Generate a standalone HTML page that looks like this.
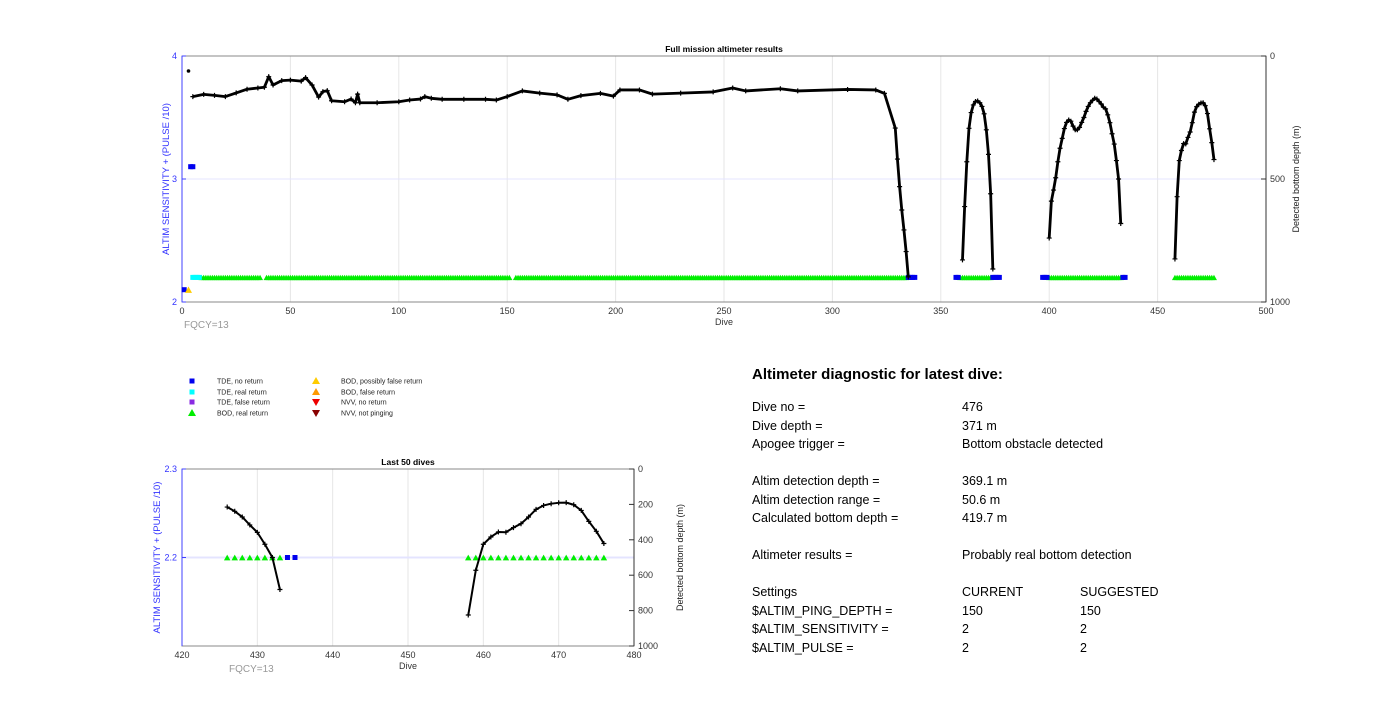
<!DOCTYPE html>
<html><head><meta charset="utf-8">
<style>
html,body{margin:0;padding:0;background:#fff;width:1400px;height:726px;overflow:hidden;font-family:"Liberation Sans",Arial,sans-serif}
#diag{position:absolute;left:752px;top:366px;font-size:12.5px;color:#000}
#diag .t{font-weight:bold;font-size:15px;margin-bottom:17px}
#diag .r{height:18.5px;position:relative;white-space:nowrap}
#diag .gap{height:18.5px}
#diag span{position:absolute;top:0}
</style></head>
<body>
<svg id="svg" width="1400" height="726" style="position:absolute;left:0;top:0" font-family="Liberation Sans, Arial, sans-serif"></svg>
<div id="diag">
<div class="t">Altimeter diagnostic for latest dive:</div>
<div class="r"><span style="left:0">Dive no =</span><span style="left:210px">476</span></div>
<div class="r"><span style="left:0">Dive depth =</span><span style="left:210px">371 m</span></div>
<div class="r"><span style="left:0">Apogee trigger =</span><span style="left:210px">Bottom obstacle detected</span></div>
<div class="gap"></div>
<div class="r"><span style="left:0">Altim detection depth =</span><span style="left:210px">369.1 m</span></div>
<div class="r"><span style="left:0">Altim detection range =</span><span style="left:210px">50.6 m</span></div>
<div class="r"><span style="left:0">Calculated bottom depth =</span><span style="left:210px">419.7 m</span></div>
<div class="gap"></div>
<div class="r"><span style="left:0">Altimeter results =</span><span style="left:210px">Probably real bottom detection</span></div>
<div class="gap"></div>
<div class="r"><span style="left:0">Settings</span><span style="left:210px">CURRENT</span><span style="left:328px">SUGGESTED</span></div>
<div class="r"><span style="left:0">$ALTIM_PING_DEPTH =</span><span style="left:210px">150</span><span style="left:328px">150</span></div>
<div class="r"><span style="left:0">$ALTIM_SENSITIVITY =</span><span style="left:210px">2</span><span style="left:328px">2</span></div>
<div class="r"><span style="left:0">$ALTIM_PULSE =</span><span style="left:210px">2</span><span style="left:328px">2</span></div>
</div>
<script>
// ---- data ----
const segADives = [5,10,15,20,25,30,35,38,40,42,46,50,55,57,60,63,65,67,69,75,78,80,81,82,90,100,105,110,112,115,120,130,140,145,150,157,165,173,178,184,193,199,202,211,217,230,245,254,260,276,284,307,320,324,329,330,331,332,333,334,335];
const segADepth = [165,156,160,165,150,135,130,127,84,118,100,98,102,88,118,167,145,141,182,186,175,190,155,190,190,186,179,175,165,172,176,176,176,179,165,142,151,158,176,161,152,163,138,138,155,151,146,130,142,133,142,136,138,152,293,419,531,626,707,795,898];
const segBDives = [360,361,362,363,364,365,366,367,368,369,370,371,372,373,374];
const segBDepth = [829,612,430,294,230,199,185,183,190,205,235,300,400,560,866];
const segCDives = [400,401,402,403,404,405,406,407,408,409,410,411,412,413,414,415,416,417,418,419,420,421,422,423,424,425,426,427,428,429,430,431,432,433];
const segCDepth = [740,590,545,495,430,375,335,295,270,260,265,285,300,300,290,270,250,225,205,190,180,172,175,185,195,208,215,239,271,316,358,425,500,681];
const segDDives = [458,459,460,461,462,463,464,465,466,467,468,469,470,471,472,473,474,475,476];
const segDDepth = [825,572,425,384,356,357,331,309,271,228,206,196,191,190,202,234,296,352,421];
const bodRealStart = [9,39,154,328,359,400,458];
const bodRealEnd = [36,151,327,334,373,433,476];
const tdeNoReturnDives = [1,4,5,335,336,337,338,357,358,374,375,376,377,397,398,399,434,435];
const tdeNoReturnVals = [2.1,3.1,3.1,2.2,2.2,2.2,2.2,2.2,2.2,2.2,2.2,2.2,2.2,2.2,2.2,2.2,2.2,2.2];
const tdeRealDives = [5,6,7,8];
const bodPossFalseDives = [3];
const bodPossFalseVals = [2.1];
const isolatedDepthDive = [3];
const isolatedDepthVal = [61];
const topXTicks = [0,50,100,150,200,250,300,350,400,450,500];
const topYTicks = [2,3,4];
const topRTicks = [0,500,1000];
const botXTicks = [420,430,440,450,460,470,480];
const botYTicks = [2.2,2.3];
const botRTicks = [0,200,400,600,800,1000];

const NS='http://www.w3.org/2000/svg';
const svg=document.getElementById('svg');
function mk(tag,attrs,parent){const e=document.createElementNS(NS,tag);for(const k in attrs)e.setAttribute(k,attrs[k]);(parent||svg).appendChild(e);return e;}
function txt(s,x,y,attrs){const e=mk('text',Object.assign({x:x,y:y},attrs||{}));e.textContent=s;return e;}

function chart(o){
  const X=v=>o.x0+(v-o.xmin)/(o.xmax-o.xmin)*(o.x1-o.x0);
  const YL=v=>o.y1-(v-o.ymin)/(o.ymax-o.ymin)*(o.y1-o.y0);
  const YR=v=>o.y0+(v-0)/1000*(o.y1-o.y0);
  const g=mk('g',{});
  
  
  o.xticks.forEach(t=>{if(t>o.xmin&&t<o.xmax){const l=mk('line',{x1:X(t),x2:X(t),y1:o.y0,y2:o.y1,stroke:'#e6e6e6','stroke-width':1},g);
    
    }});
  o.ygrid.forEach(t=>{const l=mk('line',{x1:o.x0,x2:o.x1,y1:YL(t),y2:YL(t),stroke:'#e4e4ff','stroke-width':o.gw||1},g);
    
    });
  const fr=mk('rect',{x:o.x0,y:o.y0,width:o.x1-o.x0,height:o.y1-o.y0,fill:'none',stroke:'#888','stroke-width':1},g);
  
  
  const la=mk('line',{x1:o.x0,x2:o.x0,y1:o.y0,y2:o.y1,stroke:'#4040ff','stroke-width':1},g);
  
  
  const ra=mk('line',{x1:o.x1,x2:o.x1,y1:o.y0,y2:o.y1,stroke:'#333','stroke-width':1},g);
  
  
  o.xticks.forEach(t=>{const e=txt(String(t),X(t),o.y1+12,{'font-size':9,'text-anchor':'middle',fill:'#333'});
    
    
    g.appendChild(e);});
  o.yticks.forEach(t=>{const e=txt(String(t),o.x0-5,YL(t)+3,{'font-size':9,'text-anchor':'end',fill:'#3333ff'});
    
    
    g.appendChild(e);
    const tk=mk('line',{x1:o.x0,x2:o.x0+4,y1:YL(t),y2:YL(t),stroke:'#4040ff'},g);
    
    });
  o.rticks.forEach(t=>{const e=txt(String(t),o.x1+4,YR(t)+3,{'font-size':9,'text-anchor':'start',fill:'#333'});
    
    
    g.appendChild(e);
    const tk=mk('line',{x1:o.x1-5,x2:o.x1,y1:YR(t),y2:YR(t),stroke:'#333'},g);
    
    });
  const ti=txt(o.title,(o.x0+o.x1)/2,o.y0-4,{'font-size':8.5,'font-weight':'bold','text-anchor':'middle'});
  
  
  g.appendChild(ti);
  const xl=txt('Dive',(o.x0+o.x1)/2,o.y1+23,{'font-size':9,'text-anchor':'middle',fill:'#333'});
  
  
  g.appendChild(xl);
  const fq=txt('FQCY=13',o.fqx,o.y1+26,{'font-size':10,fill:'#999'});
  
  
  g.appendChild(fq);
  const cy=(o.y0+o.y1)/2;
  const yl=txt('ALTIM SENSITIVITY + (PULSE /10)',o.ylx,cy,{'font-size':9.5,fill:'#3333ff','text-anchor':'middle',transform:`rotate(-90 ${o.ylx} ${cy})`});
  
  
  g.appendChild(yl);
  const rl=txt('Detected bottom depth (m)',o.rlx,cy,{'font-size':9,fill:'#222','text-anchor':'middle',transform:`rotate(-90 ${o.rlx} ${cy})`});
  
  
  g.appendChild(rl);
  const inr=d=>d>=o.dmin&&d<=o.xmax;
  const tri=(d,v,col,s,name)=>{if(!inr(d))return;const x=X(d),y=YL(v);const h=s*0.9;
    const pts=`${x-s/2},${y+h/2} ${x+s/2},${y+h/2} ${x},${y-h/2}`;
    const p=mk('polygon',{points:pts,fill:col},g);
    
    };
  const sq=(d,v,col,s,name)=>{if(!inr(d))return;const r=mk('rect',{x:X(d)-s/2,y:YL(v)-s/2,width:s,height:s,fill:col},g);
    
    };
  bodRealStart.forEach((s,i)=>{for(let d=s;d<=bodRealEnd[i];d++)tri(d,2.2,'#00ee00',o.ms,'bod-real-return-marker');});
  tdeRealDives.forEach(d=>sq(d,2.2,'#00ffff',o.ss,'tde-real-return-marker'));
  tdeNoReturnDives.forEach((d,i)=>sq(d,tdeNoReturnVals[i],'#0000ee',o.ss,'tde-no-return-marker'));
  bodPossFalseDives.forEach((d,i)=>tri(d,bodPossFalseVals[i],'#ffcc00',o.ms+1,'bod-possibly-false-marker'));
  [[segADives,segADepth],[segBDives,segBDepth],[segCDives,segCDepth],[segDDives,segDDepth]].forEach((sg,si)=>{
    const pts=[];sg[0].forEach((d,i)=>{if(inr(d))pts.push([X(d),YR(sg[1][i])]);});
    if(!pts.length)return;
    const pl=mk('polyline',{points:pts.map(p=>p.join(',')).join(' '),fill:'none',stroke:'#000','stroke-width':o.lw,'stroke-linejoin':'round'},g);
    
    
    let dpath='';pts.forEach(p=>{dpath+=`M${p[0]-2.5},${p[1]}h5M${p[0]},${p[1]-2.5}v5`;});
    const mp=mk('path',{d:dpath,stroke:'#000','stroke-width':1.2},g);
    
    
  });
  isolatedDepthDive.forEach((d,i)=>{if(!inr(d))return;const c=mk('circle',{cx:X(d),cy:YR(isolatedDepthVal[i]),r:1.8,fill:'#000'},g);
    
    });
}
chart({name:'full-mission-chart',title:'Full mission altimeter results',x0:182,x1:1266,y0:56,y1:302,xmin:0,xmax:500,dmin:0,ymin:2,ymax:4,
  xticks:topXTicks,yticks:topYTicks,rticks:topRTicks,ygrid:[3],ms:6,ss:5,lw:2.8,fqx:184,ylx:169,rlx:1299});
chart({name:'last-50-dives-chart',title:'Last 50 dives',x0:182,x1:634,y0:469,y1:646,xmin:420,xmax:480,dmin:426,ymin:2.1,ymax:2.3,
  xticks:botXTicks,yticks:botYTicks,rticks:botRTicks,ygrid:[2.2],gw:2,ms:6.5,ss:5,lw:2,fqx:229,ylx:160,rlx:683});

const legendItems=[
 ['sq','#0000ee','TDE, no return',192,381],['sq','#00ffff','TDE, real return',192,392],['sq','#8a2be2','TDE, false return',192,402],['up','#00ee00','BOD, real return',192,413],
 ['up','#ffcc00','BOD, possibly false return',316,381],['up','#ff9900','BOD, false return',316,392],['dn','#ee0000','NVV, no return',316,402],['dn','#880000','NVV, not pinging',316,413]];
const lg=mk('g',{});


legendItems.forEach(it=>{
  const [k,c,label,x,y]=it;let m;
  if(k==='sq')m=mk('rect',{x:x-2.5,y:y-2.5,width:5,height:5,fill:c},lg);
  else if(k==='up')m=mk('polygon',{points:`${x-4},${y+3} ${x+4},${y+3} ${x},${y-4}`,fill:c},lg);
  else m=mk('polygon',{points:`${x-4},${y-3} ${x+4},${y-3} ${x},${y+4}`,fill:c},lg);
  
  
  const t=txt(label,x+25,y+2.5,{'font-size':7,fill:'#222'});
  
  
  lg.appendChild(t);
});
</script>
</body></html>
